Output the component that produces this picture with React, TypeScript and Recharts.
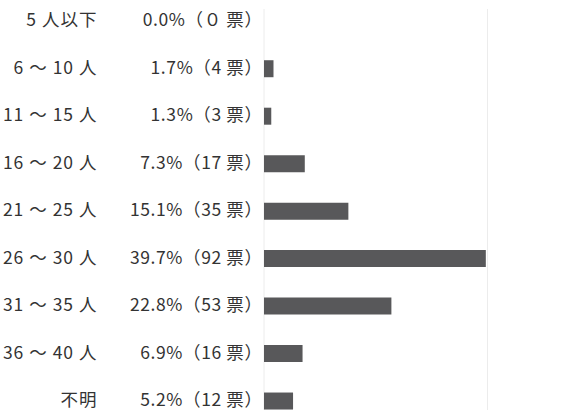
import React from "react";
import { BarChart, Bar, XAxis, YAxis, CartesianGrid } from "recharts";

const categories = ["5人以下", "6～10人", "11～15人", "16～20人", "21～25人", "26～30人", "31～35人", "36～40人", "不明"];
const percents = [0.0, 1.7, 1.3, 7.3, 15.1, 39.7, 22.8, 6.9, 5.2];
const votes = ["０", "4", "3", "17", "35", "92", "53", "16", "12"];
const xTicks = [0, 10, 20, 30, 40];

const data = categories.map((c, i) => ({ name: c, value: percents[i], votes: votes[i] }));

const FONT = "'Noto Sans CJK JP', 'Noto Sans', sans-serif";

const fmtCat = (s: string) =>
  s.replace(/(\d+)～(\d+)人/, "$1 ～ $2 人").replace(/^(\d+)人/, "$1 人");

const Tick = (props: any) => {
  const { y, payload } = props;
  const i = payload.index;
  const label = `${percents[i].toFixed(1)}%（${votes[i]} 票）`;
  return (
    <g>
      <text x={97.5} y={y} dy="0.27em" textAnchor="end" fontSize={17.5} letterSpacing={1} fill="#333" fontFamily={FONT}>
        {fmtCat(categories[i])}
      </text>
      <text x={262.5} y={y} dy="0.27em" textAnchor="end" fontSize={17.5} letterSpacing={0.6} fill="#333" fontFamily={FONT}>
        {label}
      </text>
    </g>
  );
};

export default function App() {
  return (
    <div style={{ position: "absolute", left: 0, top: 0, width: 573, height: 410, overflow: "hidden", background: "#fff" }}>
      <BarChart
        width={573}
        height={430}
        data={data}
        layout="vertical"
        margin={{ top: 9, right: 85.5, left: 0, bottom: 5 }}
      >
        <CartesianGrid horizontal={false} stroke="#ececec" />
        <XAxis type="number" domain={[0, 40]} ticks={xTicks} tick={false} axisLine={false} tickLine={false} height={0} />
        <YAxis
          type="category"
          dataKey="name"
          width={264}
          axisLine={false}
          tickLine={false}
          padding={{ top: -11.25, bottom: 0 }}
          tick={<Tick />}
          interval={0}
        />
        <Bar dataKey="value" fill="#58585a" barSize={17} isAnimationActive={false} />
      </BarChart>
    </div>
  );
}
